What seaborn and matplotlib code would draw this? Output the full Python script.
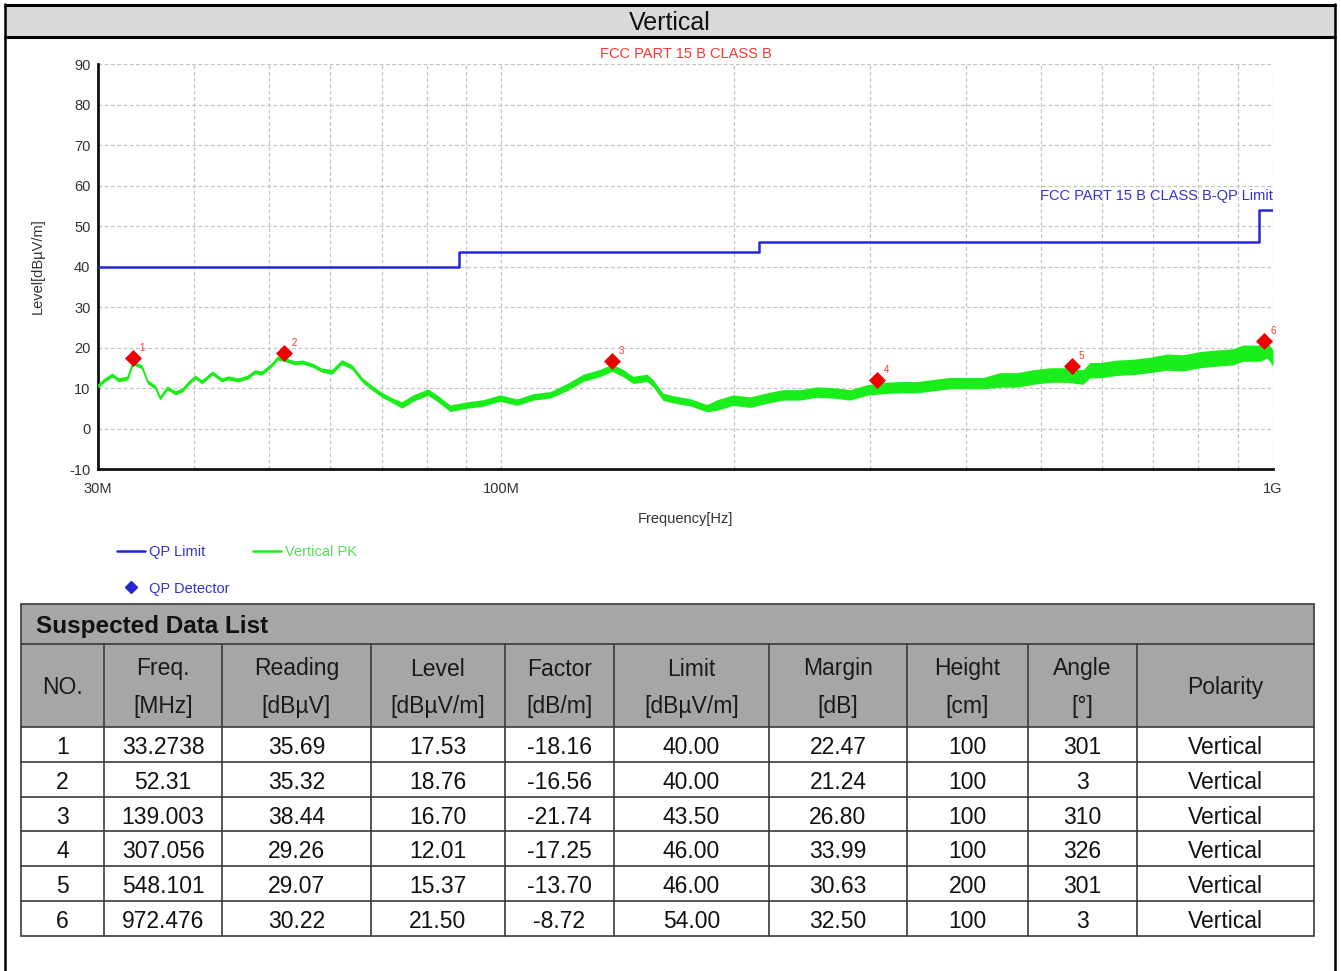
import matplotlib
matplotlib.use('Agg')
import matplotlib.pyplot as plt
from matplotlib.lines import Line2D
from matplotlib.patches import Rectangle
from matplotlib.ticker import NullFormatter
import seaborn as sns

# === Data ===
limit_freq = [30, 88, 216, 960, 1000]          # MHz
limit_level = [40, 43.5, 46, 54, 54]           # dBuV/m

trace_freq = [
    30.0, 30.6, 31.3, 31.9, 32.8, 33.3, 34.2, 34.8, 35.6, 36.1,
    36.9, 37.8, 38.6, 39.3, 40.1, 40.9, 42.2, 43.4, 44.2, 45.6,
    46.9, 47.9, 48.9, 50.4, 51.3, 52.4, 54.0, 55.2, 56.8, 58.5,
    60.3, 62.1, 64.0, 66.0, 68.0, 70.0, 72.1, 74.3, 76.8, 80.3,
    82.5, 85.8, 90.3, 94.6, 99.6, 104.8, 109.9, 115.6, 121.6, 127.6,
    134.2, 139.1, 143.7, 148.1, 154.4, 157.2, 162.0, 168.9, 175.5, 184.7,
    190.3, 199.6, 210.0, 220.9, 231.7, 243.7, 256.4, 268.9, 283.0, 297.7,
    312.3, 328.5, 345.6, 362.5, 381.4, 401.2, 420.8, 442.7, 465.7, 488.5,
    513.9, 540.7, 567.3, 579.2, 596.8, 627.8, 658.5, 692.7, 728.8, 764.4,
    804.2, 846.0, 887.4, 914.3, 961.8, 982.1, 1000.0]
trace_level = [
    10.5, 12.0, 13.2, 12.0, 12.5, 16.2, 15.2, 11.5, 10.2, 7.5,
    10.0, 8.8, 9.5, 11.2, 12.7, 11.5, 13.7, 12.0, 12.5, 12.0,
    12.7, 14.0, 13.7, 15.7, 17.4, 17.0, 16.2, 16.4, 15.7, 14.4,
    14.0, 16.4, 15.2, 12.0, 10.0, 8.3, 7.0, 5.8, 7.5, 9.0,
    7.5, 5.0, 5.8, 6.3, 7.5, 6.5, 7.8, 8.3, 10.2, 12.5,
    13.7, 15.0, 13.7, 12.0, 12.5, 11.2, 7.8, 7.0, 6.5, 5.0,
    5.8, 7.0, 6.5, 7.5, 8.3, 8.3, 9.0, 8.8, 8.3, 9.5,
    10.0, 10.2, 10.2, 10.7, 11.2, 11.2, 11.2, 12.0, 12.0, 12.7,
    13.2, 13.2, 12.7, 14.4, 14.4, 15.0, 15.2, 15.7, 16.4, 16.2,
    17.0, 17.4, 17.7, 18.6, 18.6, 19.4, 17.4]
# half-width of the noisy green band
trace_spread = [
    0.5, 0.5, 0.5, 0.5, 0.5, 0.5, 0.5, 0.5, 0.5, 0.5,
    0.5, 0.5, 0.5, 0.5, 0.5, 0.5, 0.5, 0.5, 0.5, 0.5,
    0.5, 0.5, 0.5, 0.5, 0.5, 0.5, 0.5, 0.5, 0.5, 0.5,
    0.6, 0.6, 0.6, 0.6, 0.6, 0.6, 0.6, 0.8, 0.8, 0.8,
    0.8, 0.8, 0.8, 0.8, 0.8, 0.8, 0.8, 0.8, 0.9, 0.9,
    0.9, 0.9, 0.9, 0.9, 0.9, 0.9, 0.9, 0.9, 0.9, 0.9,
    1.3, 1.3, 1.3, 1.3, 1.3, 1.3, 1.3, 1.3, 1.3, 1.3,
    1.4, 1.4, 1.4, 1.4, 1.4, 1.4, 1.4, 1.8, 1.8, 1.8,
    1.8, 1.8, 1.8, 1.9, 1.9, 1.9, 1.9, 1.9, 2.0, 2.0,
    2.0, 2.0, 2.0, 2.0, 2.0, 2.0, 2.0]

peak_no = [1, 2, 3, 4, 5, 6]
peak_freq = [33.2738, 52.31, 139.003, 307.056, 548.101, 972.476]
peak_reading = [35.69, 35.32, 38.44, 29.26, 29.07, 30.22]
peak_level = [17.53, 18.76, 16.70, 12.01, 15.37, 21.50]
peak_factor = [-18.16, -16.56, -21.74, -17.25, -13.70, -8.72]
peak_limit = [40.00, 40.00, 43.50, 46.00, 46.00, 54.00]
peak_margin = [22.47, 21.24, 26.80, 33.99, 30.63, 32.50]
peak_height = [100, 100, 100, 100, 200, 100]
peak_angle = [301, 3, 310, 326, 301, 3]
peak_polarity = ['Vertical'] * 6

x_ticks = [30, 100, 1000]
x_tick_labels = ['30M', '100M', '1G']
x_minor = [40, 50, 60, 70, 80, 90, 200, 300, 400, 500, 600, 700, 800, 900]
y_ticks = [-10, 0, 10, 20, 30, 40, 50, 60, 70, 80, 90]

# === Style ===
sns.set_theme(style='white')
plt.rcParams['font.family'] = ['Liberation Sans', 'DejaVu Sans']
plt.rcParams['axes.unicode_minus'] = False
narrow = ['Liberation Sans', 'DejaVu Sans']
CH = 10.5  # chart text size
BLUE = '#2626d9'
GREEN = '#1aee1a'
RED = '#ee0000'
TXT = '#333333'

W, H = 1341, 971
fig = plt.figure(figsize=(W / 100, H / 100), dpi=100)
fig.patch.set_facecolor('white')

# background axes in pixel coordinates for frame, title band and table
bg = fig.add_axes([0, 0, 1, 1], zorder=0)
bg.set_xlim(0, W)
bg.set_ylim(H, 0)
bg.axis('off')

bg.add_patch(Rectangle((5, 7), 1330, 30, facecolor='#d9d9d9', edgecolor='none'))
bg.plot([4, 1336], [5.5, 5.5], color='black', lw=2.2, solid_capstyle='butt')
bg.plot([4, 1336], [37.5, 37.5], color='black', lw=2.2, solid_capstyle='butt')
bg.plot([5, 5], [4, H], color='black', lw=1.8)
bg.plot([1335, 1335], [4, H], color='black', lw=1.8)
bg.text(670, 23, 'Vertical', ha='center', va='center', fontsize=18, color='#111111')

# === Chart ===
ax = fig.add_axes([98 / W, 1 - 469 / H, 1175 / W, 405 / H], zorder=2)
ax.set_facecolor('none')
ax.set_xscale('log')

lo = [l - s for l, s in zip(trace_level, trace_spread)]
hi = [l + s for l, s in zip(trace_level, trace_spread)]
ax.fill_between(trace_freq, lo, hi, color=GREEN, lw=0, zorder=3)
sns.lineplot(x=trace_freq, y=trace_level, color=GREEN, lw=1.2, ax=ax,
             estimator=None, zorder=3)
sns.lineplot(x=limit_freq, y=limit_level, color=BLUE, lw=1.8, ax=ax,
             drawstyle='steps-post', estimator=None, zorder=4)
sns.scatterplot(x=peak_freq, y=peak_level, marker='D', color=RED, s=75,
                linewidth=0, ax=ax, zorder=5)
for n, f, lv in zip(peak_no, peak_freq, peak_level):
    ax.annotate(str(n), (f, lv), xytext=(5, 5), textcoords='offset points',
                color='#ff3333', fontsize=7, family=narrow, zorder=6)

ax.set_xlim(30, 1000)
ax.set_ylim(-10, 90)
ax.set_xticks(x_ticks)
ax.set_xticklabels(x_tick_labels)
ax.set_xticks(x_minor, minor=True)
ax.xaxis.set_minor_formatter(NullFormatter())
ax.set_yticks(y_ticks)

ax.grid(True, which='both', axis='x', color='#c4c4c4', linestyle=(0, (3, 2)), lw=0.9)
ax.grid(True, which='major', axis='y', color='#c4c4c4', linestyle=(0, (3, 2)), lw=0.9)
for s in ['top', 'right']:
    ax.spines[s].set_visible(False)
for s in ['left', 'bottom']:
    ax.spines[s].set_color('#111111')
    ax.spines[s].set_linewidth(2)
ax.tick_params(axis='both', which='both', direction='inout', length=5, width=1.2,
               color='#111111', labelcolor=TXT)
ax.tick_params(axis='y', pad=3)
ax.tick_params(axis='x', pad=7)
for lab in ax.get_xticklabels() + ax.get_yticklabels():
    lab.set_family(narrow)
    lab.set_fontsize(CH)

ax.set_xlabel('Frequency[Hz]', family=narrow, fontsize=CH, color=TXT)
ax.set_ylabel('Level[dBµV/m]', family=narrow, fontsize=CH, color=TXT)
ax.xaxis.set_label_coords(0.5, -0.105)
ax.yaxis.set_label_coords(-0.045, 0.5)

ax.text(0.5, 1.025, 'FCC PART 15 B CLASS B', transform=ax.transAxes, ha='center',
        va='center', color='#ff3333', fontsize=CH, family=narrow)
ax.text(1.0, 0.674, 'FCC PART 15 B CLASS B-QP Limit', transform=ax.transAxes,
        ha='right', va='center', color='#3333cc', fontsize=CH, family=narrow)

# === Legend ===
handles = [Line2D([], [], color=BLUE, lw=1.8),
           Line2D([], [], color=BLUE, marker='D', linestyle='none', markersize=6),
           Line2D([], [], color=GREEN, lw=1.8)]
labels = ['QP Limit', 'QP Detector', 'Vertical PK']
leg = fig.legend(handles, labels, loc='upper left', bbox_to_anchor=(117 / W, 1 - 545 / H),
                 ncol=2, frameon=False, handlelength=1.9, handletextpad=0.3,
                 labelspacing=1.55, columnspacing=1.6, borderpad=0, borderaxespad=0,
                 prop={'family': narrow, 'size': CH})
for t, c in zip(leg.get_texts(), ['#3333cc', '#3333cc', '#55dd55']):
    t.set_color(c)

# === Table ===
col_edges = [21, 104, 222, 371, 505, 614, 769, 907, 1028, 1137, 1314]
t_top, t_head, t_body, t_bot = 604, 644, 727, 936
row_h = (t_bot - t_body) / len(peak_no)
LINE = '#3a3a3a'
FS = 16.5

bg.add_patch(Rectangle((col_edges[0], t_top), col_edges[-1] - col_edges[0], t_body - t_top,
                       facecolor='#a6a6a6', edgecolor='none'))
bg.add_patch(Rectangle((col_edges[0], t_top), col_edges[-1] - col_edges[0], t_bot - t_top,
                       facecolor='none', edgecolor=LINE, lw=1.2))
bg.plot([col_edges[0], col_edges[-1]], [t_head, t_head], color=LINE, lw=1.2)
for i in range(len(peak_no)):
    y = t_body + i * row_h
    bg.plot([col_edges[0], col_edges[-1]], [y, y], color=LINE, lw=1.2)
for x in col_edges[1:-1]:
    bg.plot([x, x], [t_head, t_bot], color=LINE, lw=1.2)

bg.text(36, (t_top + t_head) / 2 + 2, 'Suspected Data List', ha='left', va='center',
        fontsize=17.5, fontweight='bold', color='#111111')

headers = [['NO.'], ['Freq.', '[MHz]'], ['Reading', '[dBµV]'], ['Level', '[dBµV/m]'],
           ['Factor', '[dB/m]'], ['Limit', '[dBµV/m]'], ['Margin', '[dB]'],
           ['Height', '[cm]'], ['Angle', '[°]'], ['Polarity']]
for i, h in enumerate(headers):
    cx = (col_edges[i] + col_edges[i + 1]) / 2
    if len(h) == 1:
        bg.text(cx, (t_head + t_body) / 2 + 2, h[0], ha='center', va='center',
                fontsize=FS, color='#1a1a1a')
    else:
        bg.text(cx, 669, h[0], ha='center', va='center', fontsize=FS, color='#1a1a1a')
        bg.text(cx, 707, h[1], ha='center', va='center', fontsize=FS, color='#1a1a1a')

columns = [
    [str(v) for v in peak_no],
    [str(v) for v in peak_freq],
    [f'{v:.2f}' for v in peak_reading],
    [f'{v:.2f}' for v in peak_level],
    [f'{v:.2f}' for v in peak_factor],
    [f'{v:.2f}' for v in peak_limit],
    [f'{v:.2f}' for v in peak_margin],
    [str(v) for v in peak_height],
    [str(v) for v in peak_angle],
    peak_polarity,
]
for i, col in enumerate(columns):
    cx = (col_edges[i] + col_edges[i + 1]) / 2
    for r, val in enumerate(col):
        cy = t_body + (r + 0.5) * row_h + 3
        bg.text(cx, cy, val, ha='center', va='center', fontsize=FS, color='#111111')

plt.savefig('out.png', dpi=100)
